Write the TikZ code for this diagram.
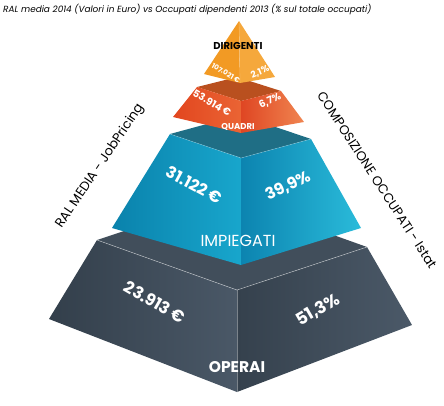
\documentclass[tikz,border=0pt]{standalone}
\usepackage{fontspec}
\setmainfont{Poppins}
\begin{document}
\definecolor{oL}{HTML}{F29A24}
\definecolor{oR}{HTML}{F5A83C}
\definecolor{rTop}{HTML}{B9501F}
\definecolor{rL1}{HTML}{E2461F}
\definecolor{rL2}{HTML}{EA6434}
\definecolor{rR1}{HTML}{DF4623}
\definecolor{rR2}{HTML}{F08550}
\definecolor{tTop}{HTML}{1F6E85}
\definecolor{tL1}{HTML}{0A82AC}
\definecolor{tL2}{HTML}{18A6CC}
\definecolor{tR1}{HTML}{0C84B0}
\definecolor{tR2}{HTML}{2ABBDA}
\definecolor{dTop}{HTML}{414E5B}
\definecolor{dL1}{HTML}{333F4B}
\definecolor{dL2}{HTML}{4A5867}
\definecolor{dR1}{HTML}{35414D}
\definecolor{dR2}{HTML}{4B5968}
\tikzset{
  val/.style={text=white, inner sep=0pt},
  cat/.style={text=white, inner sep=0pt},
  side/.style={text=black, inner sep=0pt, font=\fontsize{13}{15}\selectfont},
  hl/.style={draw=white, line width=0.5pt, opacity=0.55},
}
\begin{tikzpicture}[x=1pt,y=-1pt]
\useasboundingbox (0,0) rectangle (444,405);
% ---------- OPERAI ----------
\coordinate (dL) at (97,240); \coordinate (dF) at (237,290);
\coordinate (dR) at (367,247); \coordinate (dB) at (227,197);
\coordinate (dBL) at (49,319); \coordinate (dBF) at (237,392);
\coordinate (dBR) at (412,325);
\fill[dTop] (dL)--(dB)--(dR)--(dF)--cycle;
\shade[left color=dL1, right color=dL2] (dL)--(dF)--(dBF)--(dBL)--cycle;
\shade[left color=dR1, right color=dR2] (dF)--(dR)--(dBR)--(dBF)--cycle;
\draw[hl] (dL)--(dF)--(dR);
\draw[hl, opacity=0.35] (dF)--(dBF);
% ---------- IMPIEGATI ----------
\coordinate (tL) at (170,134); \coordinate (tF) at (241,158);
\coordinate (tR) at (311,139); \coordinate (tB) at (240,115);
\coordinate (tBL) at (112,228); \coordinate (tBF) at (241,265);
\coordinate (tBR) at (361,228);
\fill[tTop] (tL)--(tB)--(tR)--(tF)--cycle;
\shade[left color=tL1, right color=tL2] (tL)--(tF)--(tBF)--(tBL)--cycle;
\shade[left color=tR1, right color=tR2] (tF)--(tR)--(tBR)--(tBF)--cycle;
\draw[hl, opacity=0.3] (tL)--(tF)--(tR);
% ---------- QUADRI ----------
\coordinate (rL) at (197,87); \coordinate (rF) at (241,101);
\coordinate (rR) at (281,91); \coordinate (rB) at (237,77);
\coordinate (rBL) at (173,117); \coordinate (rBF) at (241,133);
\coordinate (rBR) at (304,122);
\fill[rTop] (rL)--(rB)--(rR)--(rF)--cycle;
\shade[left color=rL1, right color=rL2] (rL)--(rF)--(rBF)--(rBL)--cycle;
\shade[left color=rR1, right color=rR2] (rF)--(rR)--(rBR)--(rBF)--cycle;
% ---------- DIRIGENTI ----------
\coordinate (oA) at (239,21); \coordinate (oL) at (204,74);
\coordinate (oF) at (240,83); \coordinate (oR) at (275,77);
\fill[oL] (oA)--(oL)--(oF)--cycle;
\fill[oR] (oA)--(oF)--(oR)--cycle;
\draw[hl, opacity=0.3, line width=0.3pt] (oA)--(oF);
% ---------- texts ----------
\node[anchor=west, inner sep=0pt, font=\fontsize{8.9}{10}\selectfont\itshape] (title) at (3,9)
  {RAL media 2014 (Valori in Euro) vs Occupati dipendenti 2013 (\% sul totale occupati)};
\node[inner sep=0pt, font=\fontsize{10}{11}\selectfont\bfseries] (dir) at (238,46) {DIRIGENTI};
\node[val, rotate=-30, font=\fontsize{7}{8}\selectfont\bfseries] (v1) at (226,73) {107.021 €};
\node[val, rotate=22, font=\fontsize{9}{10}\selectfont\bfseries] (p1) at (260,72) {2,1\%};
\node[val, rotate=-30, font=\fontsize{10}{11}\selectfont\bfseries] (v2) at (212,103) {53.914 €};
\node[val, rotate=25, font=\fontsize{10}{11}\selectfont\bfseries] (p2) at (270,101) {6,7\%};
\node[cat, font=\fontsize{8.5}{9}\selectfont\bfseries] (quadri) at (238,127) {QUADRI};
\node[val, rotate=-28, font=\fontsize{16}{18}\selectfont\bfseries] (v3) at (194,185) {31.122 €};
\node[val, rotate=26, font=\fontsize{16}{18}\selectfont\bfseries] (p3) at (288,186) {39,9\%};
\node[cat, font=\fontsize{16}{18}\selectfont] (imp) at (238,241) {IMPIEGATI};
\node[val, rotate=-30, font=\fontsize{16.5}{18}\selectfont\bfseries] (v4) at (155,302) {23.913 €};
\node[val, rotate=30, font=\fontsize{17}{18}\selectfont\bfseries] (p4) at (318,310) {51,3\%};
\node[cat, font=\fontsize{15.5}{17}\selectfont\bfseries] (ope) at (237,367) {OPERAI};
\node[side, rotate=56] (ral) at (100,166) {RAL MEDIA - JobPricing};
\node[side, rotate=-57] (comp) at (377,180) {COMPOSIZIONE OCCUPATI - Istat};
\end{tikzpicture}
\end{document}
